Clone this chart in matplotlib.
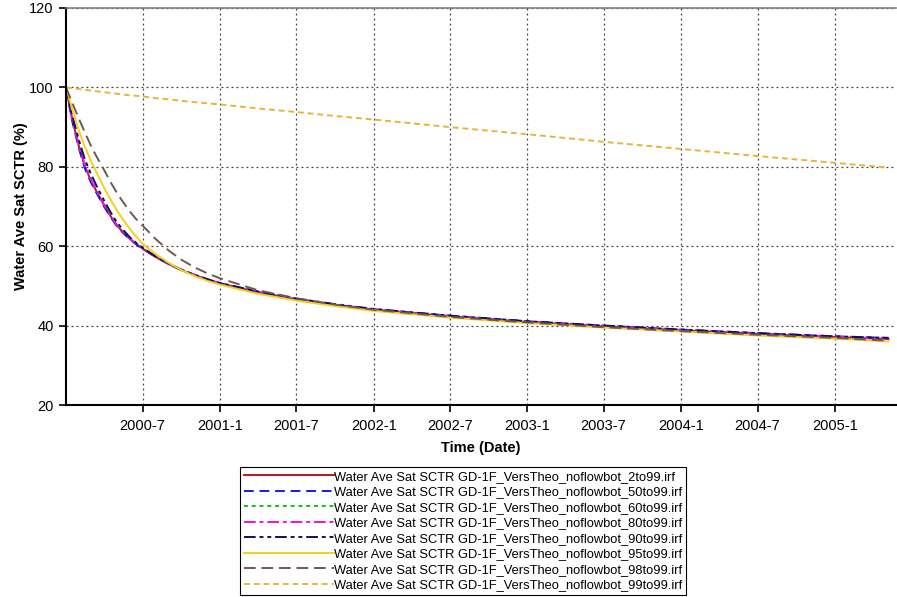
import matplotlib
matplotlib.use("Agg")
import matplotlib.pyplot as plt
import matplotlib.dates as mdates
from matplotlib.ticker import FuncFormatter
import pandas as pd

plt.rcParams['font.family'] = ['Liberation Sans', 'DejaVu Sans']

# sample dates shared by all series
dates = ["2000-01-01", "2000-01-15", "2000-02-01", "2000-02-15", "2000-03-01",
         "2000-03-15", "2000-04-01", "2000-04-15", "2000-05-01", "2000-05-15",
         "2000-06-01", "2000-06-15", "2000-07-01", "2000-08-01", "2000-09-01",
         "2000-10-01", "2000-11-01", "2000-12-01", "2001-01-01", "2001-04-01",
         "2001-07-01", "2001-10-01", "2002-01-01", "2002-07-01", "2003-01-01",
         "2003-07-01", "2004-01-01", "2004-07-01", "2005-01-01", "2005-05-08"]

sat_2to99 = [100, 92.2, 85.0, 80.0, 76.3, 73.5, 70.2, 67.7, 65.2, 63.6, 61.8, 60.6, 59.4,
             57.3, 55.5, 54.0, 52.7, 51.6, 50.6, 48.4, 46.6, 45.2, 44.0, 42.3, 40.9,
             39.8, 38.8, 37.9, 37.1, 36.6]
sat_50to99 = [100, 91.8, 84.5, 79.5, 75.9, 73.1, 69.9, 67.5, 65.0, 63.4, 61.7, 60.5, 59.3,
              57.3, 55.5, 54.0, 52.8, 51.7, 50.7, 48.5, 46.7, 45.3, 44.1, 42.5, 41.1,
              40.0, 39.0, 38.1, 37.3, 36.9]
sat_60to99 = [100, 92.5, 85.4, 80.4, 76.7, 73.8, 70.5, 68.0, 65.4, 63.8, 61.9, 60.7, 59.5,
              57.3, 55.5, 54.0, 52.7, 51.6, 50.6, 48.4, 46.6, 45.2, 44.0, 42.3, 40.9,
              39.8, 38.8, 37.9, 37.1, 36.6]
sat_80to99 = [100, 92.4, 85.3, 80.3, 76.6, 73.7, 70.4, 67.9, 65.3, 63.7, 61.9, 60.7, 59.5,
              57.4, 55.6, 54.1, 52.8, 51.7, 50.7, 48.5, 46.7, 45.3, 44.1, 42.4, 41.0,
              39.9, 38.9, 38.0, 37.2, 36.7]
sat_90to99 = [100, 93.2, 86.6, 81.8, 78.0, 74.9, 71.4, 68.7, 66.0, 64.2, 62.2, 60.9, 59.6,
              57.4, 55.6, 54.1, 52.8, 51.7, 50.7, 48.6, 46.8, 45.4, 44.2, 42.5, 41.1,
              40.0, 39.0, 38.1, 37.3, 36.9]
sat_95to99 = [100, 94.8, 89.0, 85.0, 81.3, 78.2, 74.6, 71.9, 69.0, 66.8, 64.3, 62.5, 60.6,
              58.0, 55.8, 54.0, 52.5, 51.3, 50.3, 48.0, 46.3, 44.9, 43.7, 42.0, 40.6,
              39.5, 38.5, 37.5, 36.7, 36.0]
sat_98to99 = [100, 96.3, 92.0, 88.6, 85.1, 82.3, 79.1, 76.3, 73.4, 71.2, 68.7, 66.9, 65.2,
              61.8, 58.9, 56.6, 54.7, 53.2, 51.9, 48.9, 46.9, 45.3, 44.0, 42.2, 40.8,
              39.6, 38.6, 37.7, 36.9, 36.2]
sat_99to99 = [100, 99.8, 99.6, 99.4, 99.2, 99.0, 98.8, 98.6, 98.4, 98.2, 98.0, 97.9, 97.7,
              97.3, 97.0, 96.6, 96.3, 96.0, 95.7, 94.7, 93.8, 92.8, 91.9, 90.0, 88.2,
              86.3, 84.5, 82.7, 81.0, 79.8]

cases = ["2to99", "50to99", "60to99", "80to99", "90to99", "95to99", "98to99", "99to99"]
values = [sat_2to99, sat_50to99, sat_60to99, sat_80to99, sat_90to99, sat_95to99,
          sat_98to99, sat_99to99]

colors = ['#c0141e', '#1a1ad8', '#10c010', '#f010e0', '#10105a', '#f2d21a', '#6e5a50', '#eab43a']
styles = ['-', (0, (5, 3)), (0, (2, 2)), (0, (6, 2, 2, 2)), (0, (6, 2, 2, 2, 2, 2)),
          '-', (0, (6, 3)), (0, (3, 2))]

x = pd.to_datetime(dates)

fig = plt.figure(figsize=(8.97, 5.97), dpi=100)
ax = fig.add_axes([0.0736, 0.3216, 0.9254, 0.665])

for case, vals, c, ls in zip(cases, values, colors, styles):
    ax.plot(x, vals, color=c, linestyle=ls, linewidth=1.4,
            label="Water Ave Sat SCTR GD-1F_VersTheo_noflowbot_%s.irf" % case)

ax.set_ylim(20, 120)
ax.set_yticks([20, 40, 60, 80, 100, 120])
ax.set_xlim(pd.Timestamp("2000-01-01"), pd.Timestamp("2005-05-26"))
ticks = pd.to_datetime(["2000-07-01", "2001-01-01", "2001-07-01", "2002-01-01", "2002-07-01",
                        "2003-01-01", "2003-07-01", "2004-01-01", "2004-07-01", "2005-01-01"])
ax.set_xticks(ticks)
ax.xaxis.set_major_formatter(FuncFormatter(
    lambda v, pos: "%d-%d" % (mdates.num2date(v).year, mdates.num2date(v).month)))

ax.grid(True, color='#404040', linestyle=(0, (1.5, 2.5)), linewidth=0.9)
ax.tick_params(direction='out', length=5, width=1.2, labelsize=10.5, colors='black', pad=4)
ax.tick_params(axis='x', pad=5)
ax.spines['left'].set_linewidth(1.5)
ax.spines['bottom'].set_linewidth(1.5)
ax.spines['top'].set_color('#808080')
ax.spines['top'].set_linewidth(1.2)
ax.spines['right'].set_visible(False)

ax.set_ylabel("Water Ave Sat SCTR (%)", fontsize=10.5, fontweight='bold', labelpad=1)
ax.set_xlabel("Time (Date)", fontsize=10.5, fontweight='bold', labelpad=6)

leg = fig.legend(loc='upper center', bbox_to_anchor=(0.516, 0.218), ncol=1,
                 fontsize=9.3, handlelength=7.0, handletextpad=0.0, labelspacing=0.27,
                 borderpad=0.3, borderaxespad=0, fancybox=False, framealpha=1,
                 edgecolor='black')
leg.get_frame().set_linewidth(0.8)

fig.savefig("out.png", dpi=100)
